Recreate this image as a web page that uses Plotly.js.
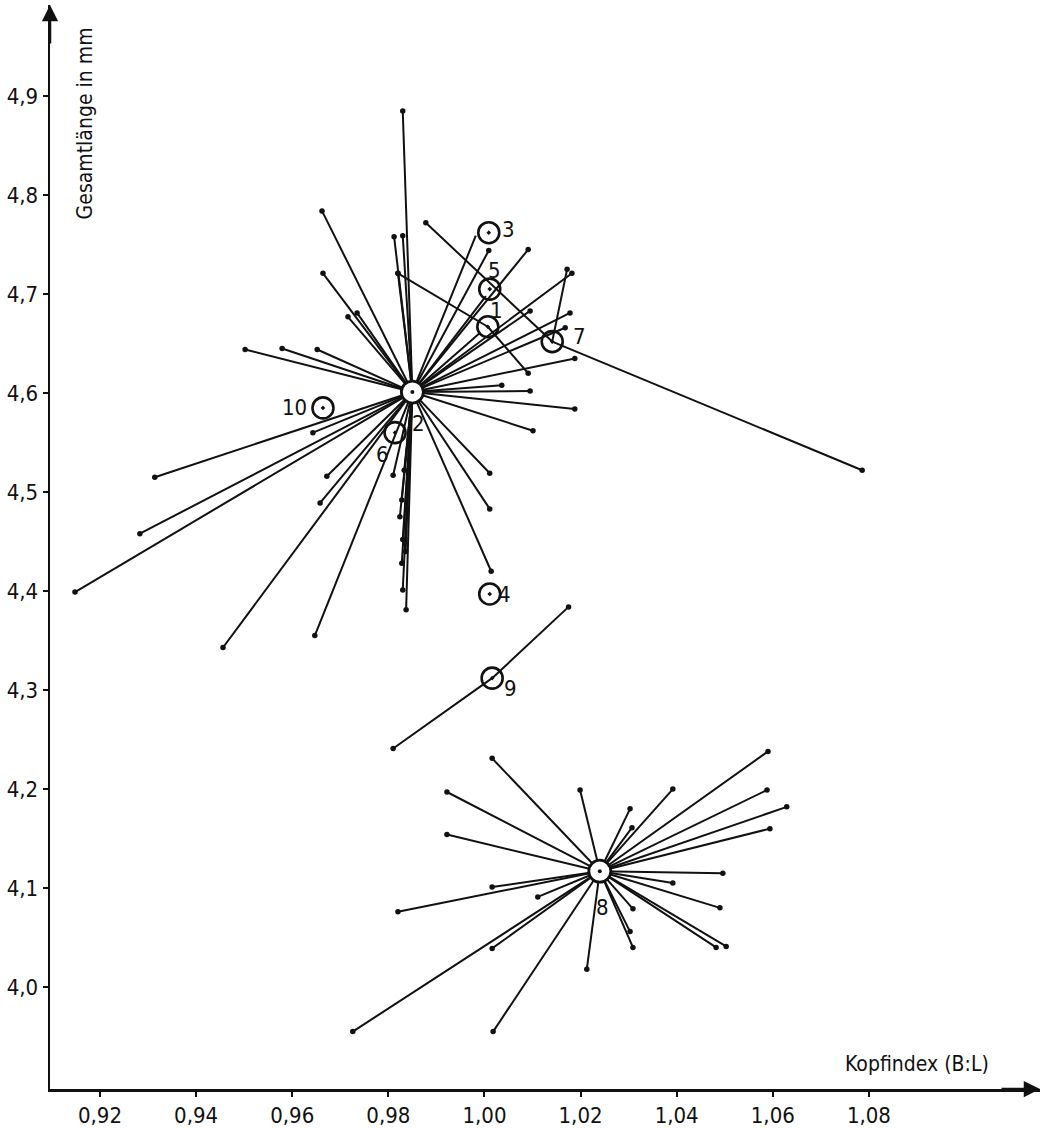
<!DOCTYPE html>
<html><head><meta charset="utf-8">
<script src="https://cdn.plot.ly/plotly-3.0.1.min.js"></script>
<style>html,body{margin:0;padding:0;background:#fff;} #chart{width:1046px;height:1128px;}</style>
</head><body><div id="chart"></div>
<script>
// ---- tick labels ----
const xTickVals = [0.92, 0.94, 0.96, 0.98, 1.00, 1.02, 1.04, 1.06, 1.08];
const xTickText = ['0,92', '0,94', '0,96', '0,98', '1,00', '1,02', '1,04', '1,06', '1,08'];
const yTickVals = [4.0, 4.1, 4.2, 4.3, 4.4, 4.5, 4.6, 4.7, 4.8, 4.9];
const yTickText = ['4,0', '4,1', '4,2', '4,3', '4,4', '4,5', '4,6', '4,7', '4,8', '4,9'];

// ---- star around population 2 (mean) ----
const center2X = [0.985];
const center2Y = [4.601];
const spokes2X = [0.9830, 0.9812, 0.9830, 0.9820, 0.9662, 0.9664, 0.9716, 0.9735, 1.0009, 1.0091,
                  1.0182, 1.0178, 1.0095, 1.0168, 1.0188, 1.0036, 1.0095, 1.0188, 1.0101, 1.0011,
                  1.0011, 1.0014, 0.9810, 0.9672, 0.9658, 0.9647, 0.9456, 0.9148, 0.9283, 0.9314,
                  0.9643, 0.9502, 0.9579, 0.9652, 0.9833, 0.9828, 0.9830, 0.9828, 0.9830, 0.9837,
                  0.9824, 0.9836];
const spokes2Y = [4.885, 4.758, 4.759, 4.721, 4.784, 4.721, 4.677, 4.681, 4.744, 4.745,
                  4.721, 4.681, 4.683, 4.666, 4.635, 4.608, 4.602, 4.584, 4.562, 4.519,
                  4.483, 4.420, 4.517, 4.516, 4.489, 4.355, 4.343, 4.399, 4.458, 4.515,
                  4.560, 4.644, 4.645, 4.644, 4.522, 4.492, 4.452, 4.428, 4.401, 4.381,
                  4.475, 4.440];
// spokes of 2 that end on the rim of a species circle (no end dot)
const touch2X = [0.9982, 1.0003, 0.9991];
const touch2Y = [4.759, 4.698, 4.661];

// ---- star around population 8 (mean) ----
const center8X = [1.024];
const center8Y = [4.117];
const spokes8X = [1.0016, 0.9922, 1.0199, 1.0392, 1.0590, 1.0588, 1.0629, 1.0594, 1.0303, 1.0307,
                  0.9922, 1.0496, 1.0392, 1.0490, 1.0016, 0.9820, 1.0111, 1.0309, 1.0309, 1.0303,
                  1.0482, 1.0503, 1.0016, 1.0213, 0.9726, 1.0018];
const spokes8Y = [4.231, 4.197, 4.199, 4.200, 4.238, 4.199, 4.182, 4.160, 4.180, 4.161,
                  4.154, 4.115, 4.105, 4.080, 4.101, 4.076, 4.091, 4.079, 4.040, 4.056,
                  4.040, 4.041, 4.039, 4.018, 3.955, 3.955];

// ---- single species (circled) ----
const speciesLabels = ['1', '3', '4', '5', '6', '7', '9', '10'];
const speciesX = [1.0007, 1.0009, 1.0011, 1.0011, 0.9814, 1.0141, 1.0016, 0.9664];
const speciesY = [4.667, 4.762, 4.397, 4.705, 4.560, 4.652, 4.312, 4.585];

// ---- lines drawn from single species ----
const rangeFrom = ['1', '1', '7', '7', '7', '9', '9'];
const rangeX = [0.9820, 1.0091, 0.9878, 1.0786, 1.0172, 0.9810, 1.0175];
const rangeY = [4.721, 4.620, 4.772, 4.522, 4.725, 4.241, 4.384];

// ---- axis titles ----
const xTitle = 'Kopfindex (B:L)';
const yTitle = 'Gesamtlänge in mm';

// ================= build =================
function segs(cx, cy, ex, ey) {
  const X = [], Y = [];
  for (let i = 0; i < ex.length; i++) { X.push(cx, ex[i], null); Y.push(cy, ey[i], null); }
  return {X, Y};
}
const s2 = segs(center2X[0], center2Y[0], spokes2X.concat(touch2X), spokes2Y.concat(touch2Y));
const s8 = segs(center8X[0], center8Y[0], spokes8X, spokes8Y);
const rX = [], rY = [];
rangeFrom.forEach((lab, i) => {
  const k = speciesLabels.indexOf(lab);
  rX.push(speciesX[k], rangeX[i], null);
  rY.push(speciesY[k], rangeY[i], null);
});

const lineStyle = {color: '#111', width: 2};
const traces = [
  {type: 'scatter', mode: 'lines', x: s2.X, y: s2.Y, line: lineStyle, hoverinfo: 'skip'},
  {type: 'scatter', mode: 'lines', x: s8.X, y: s8.Y, line: lineStyle, hoverinfo: 'skip'},
  {type: 'scatter', mode: 'lines', x: rX, y: rY, line: lineStyle, hoverinfo: 'skip'},
  {type: 'scatter', mode: 'markers',
   x: spokes2X.concat(spokes8X, rangeX), y: spokes2Y.concat(spokes8Y, rangeY),
   marker: {color: '#111', size: 5.5}, hoverinfo: 'skip'},
  {type: 'scatter', mode: 'markers', x: speciesX, y: speciesY,
   marker: {symbol: 'circle-open-dot', size: 21, color: '#111', line: {width: 2.6, color: '#111'}}},
  {type: 'scatter', mode: 'markers', x: center2X.concat(center8X), y: center2Y.concat(center8Y),
   marker: {symbol: 'circle', size: 22, color: '#fff', line: {width: 2.8, color: '#111'}}},
  {type: 'scatter', mode: 'markers', x: center2X.concat(center8X), y: center2Y.concat(center8Y),
   marker: {symbol: 'circle', size: 4, color: '#111'}}
];

const font = 'DejaVu Sans Condensed, Liberation Sans Narrow, sans-serif';
// label placement (pixel offsets) for the numbers beside circles
const labelStyle = {
  '1': {xs: 9, ys: 16}, '3': {xs: 20, ys: 3}, '4': {xs: 15, ys: 0}, '5': {xs: 5, ys: 19},
  '6': {xs: -13, ys: -22}, '7': {xs: 27, ys: 5}, '9': {xs: 18, ys: -10}, '10': {xs: -28, ys: 0}
};
const annotations = speciesLabels.map((lab, i) => ({
  x: speciesX[i], y: speciesY[i], xref: 'x', yref: 'y', text: lab, showarrow: false,
  xshift: labelStyle[lab].xs, yshift: labelStyle[lab].ys,
  font: {family: font, size: 22, color: '#111'}
}));
annotations.push({x: center2X[0], y: center2Y[0], xref: 'x', yref: 'y', text: '2', showarrow: false,
  xshift: 6, yshift: -31, font: {family: font, size: 22, color: '#111'}});
annotations.push({x: center8X[0], y: center8Y[0], xref: 'x', yref: 'y', text: '8', showarrow: false,
  xshift: 3, yshift: -36, font: {family: font, size: 22, color: '#111'}});
// axis titles
annotations.push({x: 1.090, y: 3.922, xref: 'x', yref: 'y', text: xTitle, showarrow: false,
  font: {family: font, size: 21, color: '#111'}});
annotations.push({x: 0.9168, y: 4.872, xref: 'x', yref: 'y', text: yTitle, showarrow: false,
  textangle: -90, font: {family: font, size: 21, color: '#111'}});
// axis arrows
annotations.push({x: 1, y: 0, xref: 'paper', yref: 'paper', text: '', showarrow: true,
  ax: -40, ay: 0, arrowhead: 2, arrowsize: 1.3, arrowwidth: 2.5, arrowcolor: '#111'});
annotations.push({x: 0, y: 1, xref: 'paper', yref: 'paper', text: '', showarrow: true,
  ax: 0, ay: 40, arrowhead: 2, arrowsize: 1.3, arrowwidth: 2.5, arrowcolor: '#111'});

const axisCommon = {
  showgrid: false, zeroline: false, showline: true, linecolor: '#111', linewidth: 2.5,
  ticks: 'outside', ticklen: 5, tickwidth: 2, tickcolor: '#111',
  tickfont: {family: font, size: 22, color: '#111'}
};
const layout = {
  width: 1046, height: 1128,
  margin: {l: 50, r: 6, t: 5, b: 39, pad: 0},
  paper_bgcolor: '#fff', plot_bgcolor: '#fff',
  showlegend: false,
  xaxis: Object.assign({}, axisCommon, {range: [0.9096, 1.1156], tickmode: 'array',
    tickvals: xTickVals, ticktext: xTickText}),
  yaxis: Object.assign({}, axisCommon, {range: [3.897, 4.992], tickmode: 'array',
    tickvals: yTickVals, ticktext: yTickText}),
  annotations: annotations
};
Plotly.newPlot('chart', traces, layout, {displayModeBar: false, staticPlot: true});
</script>
</body></html>
